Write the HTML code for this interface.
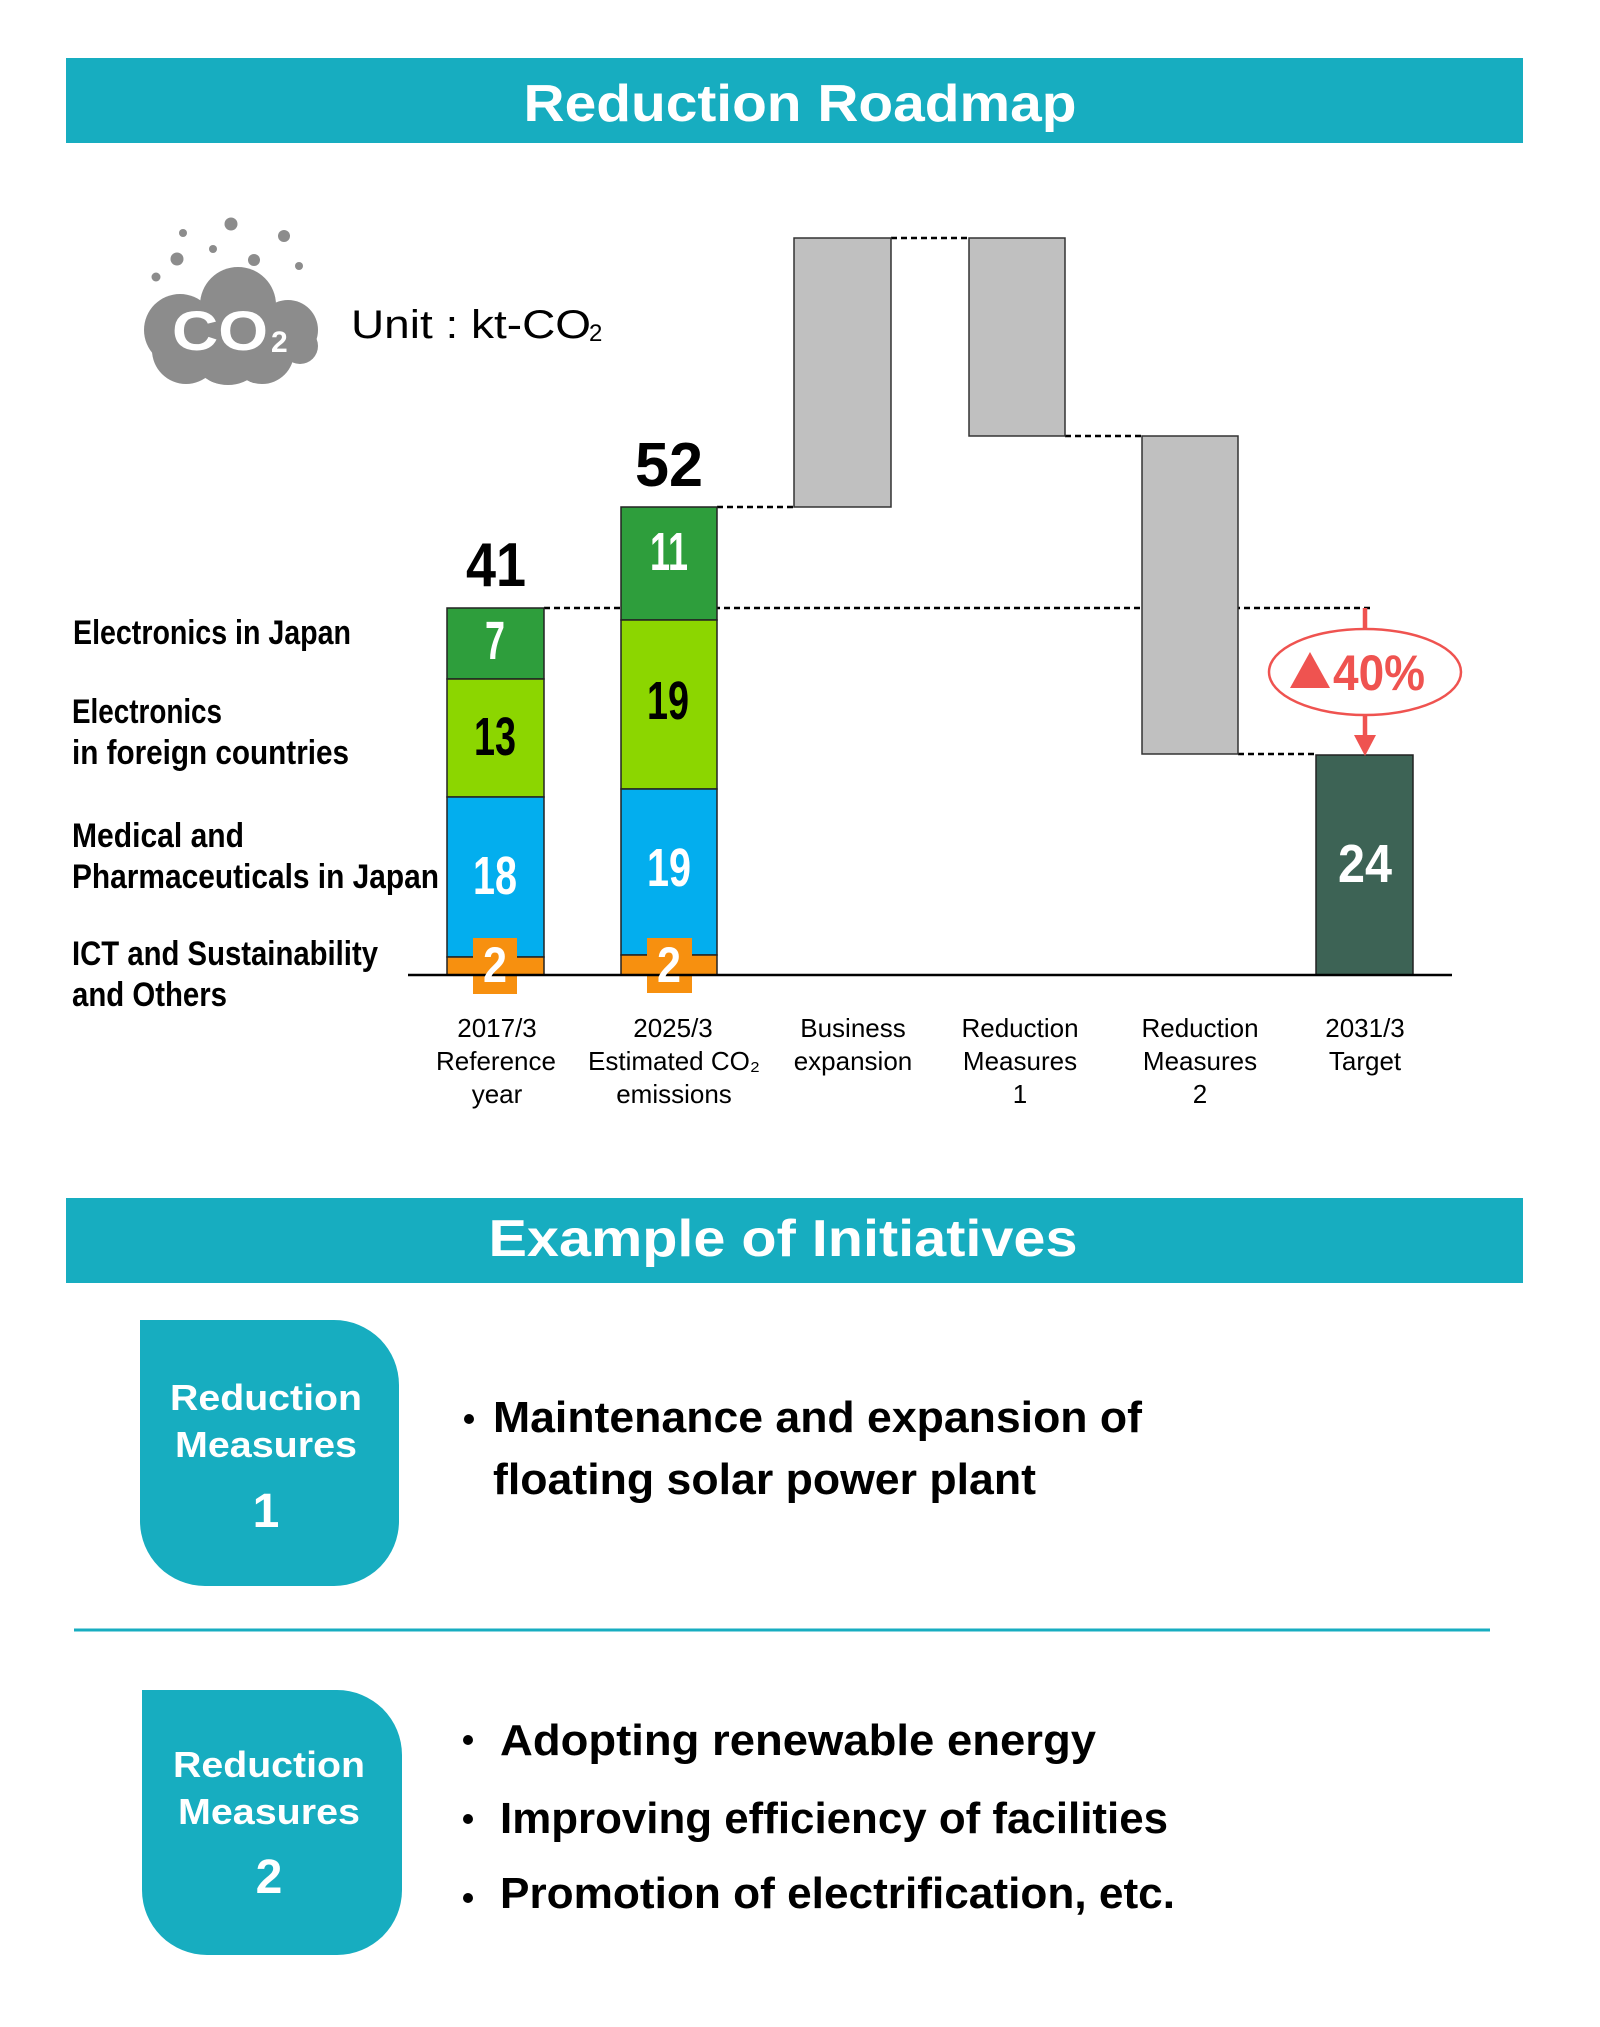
<!DOCTYPE html>
<html><head><meta charset="utf-8"><style>
html,body{margin:0;padding:0;background:#fff}
svg{display:block}
</style></head><body>
<svg width="1600" height="2027" viewBox="0 0 1600 2027" xmlns="http://www.w3.org/2000/svg" font-family="Liberation Sans, sans-serif">
<rect width="1600" height="2027" fill="#fff"/>
<!-- Banner 1 -->
<rect x="66" y="58" width="1457" height="85" fill="#17adc0"/>
<text x="800" y="121" text-anchor="middle" font-size="52" font-weight="bold" fill="#fff" textLength="553" lengthAdjust="spacingAndGlyphs">Reduction Roadmap</text>

<!-- CO2 cloud -->
<g fill="#8c8c8c">
<circle cx="231" cy="224" r="6.5"/><circle cx="183" cy="233" r="4"/><circle cx="177" cy="259" r="6.5"/>
<circle cx="213" cy="249" r="4"/><circle cx="254" cy="260" r="6"/><circle cx="284" cy="236" r="6"/>
<circle cx="299" cy="266" r="4"/><circle cx="156" cy="277" r="4.5"/>
<circle cx="238" cy="305" r="38"/><circle cx="180" cy="330" r="36"/><circle cx="288" cy="330" r="30"/>
<circle cx="186" cy="350" r="34"/><circle cx="262" cy="352" r="32"/><circle cx="300" cy="346" r="18"/>
<circle cx="228" cy="345" r="40"/><circle cx="222" cy="360" r="24"/>
</g>
<text x="172" y="350" font-size="56" font-weight="bold" fill="#fff" textLength="96" lengthAdjust="spacingAndGlyphs">CO</text>
<text x="271" y="352" font-size="30" font-weight="bold" fill="#fff">2</text>
<text x="351" y="338" font-size="40" fill="#000" textLength="240" lengthAdjust="spacingAndGlyphs">Unit : kt-CO</text>
<text x="589" y="341" font-size="24" fill="#000">2</text>

<!-- dashed connectors -->
<g stroke="#000" stroke-width="2.5" stroke-dasharray="6,4" fill="none">
<line x1="544" y1="608" x2="1373" y2="608"/>
<line x1="717" y1="507" x2="794" y2="507"/>
<line x1="891" y1="238" x2="969" y2="238"/>
<line x1="1065" y1="436" x2="1142" y2="436"/>
<line x1="1238" y1="754" x2="1316" y2="754"/>
</g>

<!-- gray bars -->
<g fill="#c0c0c0" stroke="#333" stroke-width="1.5">
<rect x="794" y="238" width="97" height="269"/>
<rect x="969" y="238" width="96" height="198"/>
<rect x="1142" y="436" width="96" height="318"/>
</g>

<!-- bar 1 -->
<g stroke="#222" stroke-width="1.5">
<rect x="447" y="608" width="97" height="71" fill="#2e9e3c"/>
<rect x="447" y="679" width="97" height="118" fill="#8cd600"/>
<rect x="447" y="797" width="97" height="160" fill="#03aeee"/>
<rect x="447" y="957" width="97" height="18" fill="#f7900f"/>
<!-- bar 2 -->
<rect x="621" y="507" width="96" height="113" fill="#2e9e3c"/>
<rect x="621" y="620" width="96" height="169" fill="#8cd600"/>
<rect x="621" y="789" width="96" height="166" fill="#03aeee"/>
<rect x="621" y="955" width="96" height="20" fill="#f7900f"/>
<!-- target -->
<rect x="1316" y="755" width="97" height="220" fill="#3d6355"/>
</g>
<rect x="473" y="938" width="44" height="56" fill="#f7900f"/>
<rect x="647" y="938" width="45" height="55" fill="#f7900f"/>
<line x1="408" y1="975" x2="1452" y2="975" stroke="#000" stroke-width="2.5"/>

<!-- bar numbers -->
<g font-family="Liberation Sans Narrow, Liberation Sans, sans-serif" font-weight="bold" text-anchor="middle">
<text x="496" y="586" font-size="62" fill="#000" textLength="60" lengthAdjust="spacingAndGlyphs">41</text>
<text x="669" y="486" font-size="62" fill="#000" textLength="68" lengthAdjust="spacingAndGlyphs">52</text>
<text x="495" y="659" font-size="54" fill="#fff" textLength="20" lengthAdjust="spacingAndGlyphs">7</text>
<text x="495" y="755" font-size="54" fill="#000" textLength="42" lengthAdjust="spacingAndGlyphs">13</text>
<text x="495" y="894" font-size="54" fill="#fff" textLength="44" lengthAdjust="spacingAndGlyphs">18</text>
<text x="495" y="982" font-size="50" fill="#fff" textLength="24" lengthAdjust="spacingAndGlyphs">2</text>
<text x="669" y="570" font-size="54" fill="#fff" textLength="38" lengthAdjust="spacingAndGlyphs">11</text>
<text x="668" y="719" font-size="54" fill="#000" textLength="42" lengthAdjust="spacingAndGlyphs">19</text>
<text x="669" y="886" font-size="54" fill="#fff" textLength="44" lengthAdjust="spacingAndGlyphs">19</text>
<text x="669" y="982" font-size="50" fill="#fff" textLength="24" lengthAdjust="spacingAndGlyphs">2</text>
<text x="1365" y="882" font-size="54" fill="#fff" textLength="54" lengthAdjust="spacingAndGlyphs">24</text>
</g>

<!-- red arrow + ellipse -->
<line x1="1365" y1="608" x2="1365" y2="735" stroke="#ef5350" stroke-width="4.5"/>
<polygon points="1354,735 1376,735 1365,756" fill="#ef5350"/>
<ellipse cx="1365" cy="672" rx="96" ry="43" fill="#fff" stroke="#ef5350" stroke-width="2.5"/>
<polygon points="1290,688 1330,688 1310,652" fill="#ef5350"/>
<text x="1333" y="690" font-family="Liberation Sans Narrow, Liberation Sans, sans-serif" font-size="50" font-weight="bold" fill="#ef5350" textLength="92" lengthAdjust="spacingAndGlyphs">40%</text>

<!-- left labels -->
<g font-family="Liberation Sans Narrow, Liberation Sans, sans-serif" font-size="34" font-weight="bold" fill="#000">
<text x="73" y="644" textLength="278" lengthAdjust="spacingAndGlyphs">Electronics in Japan</text>
<text x="72" y="723" textLength="150" lengthAdjust="spacingAndGlyphs">Electronics</text>
<text x="72" y="764" textLength="277" lengthAdjust="spacingAndGlyphs">in foreign countries</text>
<text x="72" y="847" textLength="172" lengthAdjust="spacingAndGlyphs">Medical and</text>
<text x="72" y="888" textLength="367" lengthAdjust="spacingAndGlyphs">Pharmaceuticals  in Japan</text>
<text x="72" y="965" textLength="306" lengthAdjust="spacingAndGlyphs">ICT and Sustainability</text>
<text x="72" y="1006" textLength="155" lengthAdjust="spacingAndGlyphs">and Others</text>
</g>

<!-- axis labels -->
<g font-size="26" fill="#000" text-anchor="middle">
<text x="497" y="1037">2017/3</text><text x="496" y="1070">Reference</text><text x="497" y="1103">year</text>
<text x="673" y="1037">2025/3</text><text x="674" y="1070">Estimated CO₂</text><text x="674" y="1103">emissions</text>
<text x="853" y="1037">Business</text><text x="853" y="1070">expansion</text>
<text x="1020" y="1037">Reduction</text><text x="1020" y="1070">Measures</text><text x="1020" y="1103">1</text>
<text x="1200" y="1037">Reduction</text><text x="1200" y="1070">Measures</text><text x="1200" y="1103">2</text>
<text x="1365" y="1037">2031/3</text><text x="1365" y="1070">Target</text>
</g>

<!-- Banner 2 -->
<rect x="66" y="1198" width="1457" height="85" fill="#17adc0"/>
<text x="783" y="1256" text-anchor="middle" font-size="52" font-weight="bold" fill="#fff" textLength="589" lengthAdjust="spacingAndGlyphs">Example of Initiatives</text>

<!-- Box 1 -->
<path d="M140,1320 H334 A65,65 0 0 1 399,1385 V1521 A65,65 0 0 1 334,1586 H205 A65,65 0 0 1 140,1521 Z" fill="#17adc0"/>
<g font-weight="bold" fill="#fff" text-anchor="middle">
<text x="266" y="1410" font-size="36" textLength="192" lengthAdjust="spacingAndGlyphs">Reduction</text>
<text x="266" y="1457" font-size="36" textLength="182" lengthAdjust="spacingAndGlyphs">Measures</text>
<text x="266" y="1527" font-size="48">1</text>
</g>
<g font-size="44" font-weight="bold" fill="#000">
<circle cx="469" cy="1419" r="5" fill="#000"/>
<text x="493" y="1432" textLength="649" lengthAdjust="spacingAndGlyphs">Maintenance and expansion of</text>
<text x="493" y="1494" textLength="543" lengthAdjust="spacingAndGlyphs">floating solar power plant</text>
</g>

<line x1="74" y1="1630" x2="1490" y2="1630" stroke="#17adc0" stroke-width="3"/>

<!-- Box 2 -->
<path d="M142,1690 H337 A65,65 0 0 1 402,1755 V1890 A65,65 0 0 1 337,1955 H207 A65,65 0 0 1 142,1890 Z" fill="#17adc0"/>
<g font-weight="bold" fill="#fff" text-anchor="middle">
<text x="269" y="1777" font-size="36" textLength="192" lengthAdjust="spacingAndGlyphs">Reduction</text>
<text x="269" y="1824" font-size="36" textLength="182" lengthAdjust="spacingAndGlyphs">Measures</text>
<text x="269" y="1893" font-size="48">2</text>
</g>
<g font-size="44" font-weight="bold" fill="#000">
<circle cx="468" cy="1740" r="5"/><circle cx="468" cy="1819" r="5"/><circle cx="468" cy="1898" r="5"/>
<text x="500" y="1755" textLength="596" lengthAdjust="spacingAndGlyphs">Adopting renewable energy</text>
<text x="500" y="1833" textLength="668" lengthAdjust="spacingAndGlyphs">Improving efficiency of facilities</text>
<text x="500" y="1908" textLength="675" lengthAdjust="spacingAndGlyphs">Promotion of electrification, etc.</text>
</g>
</svg>
</body></html>
